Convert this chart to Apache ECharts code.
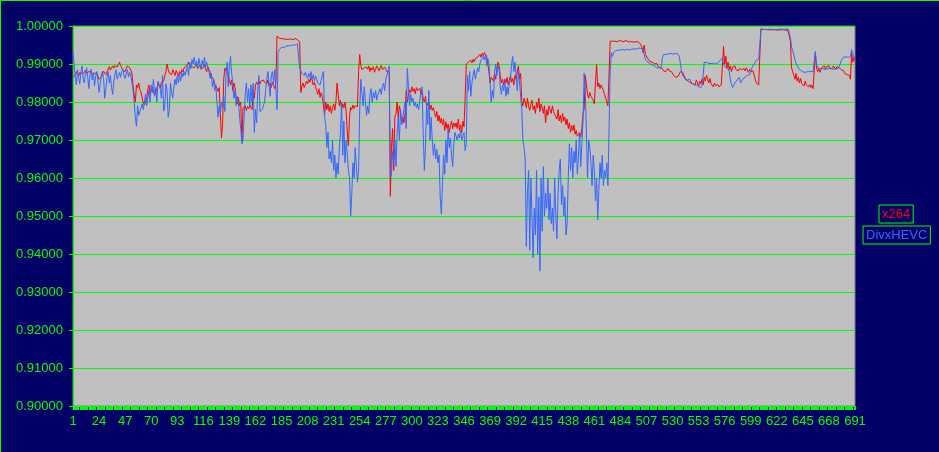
<!DOCTYPE html>
<html><head><meta charset="utf-8">
<script src="https://cdn.jsdelivr.net/npm/echarts@6/dist/echarts.min.js"></script>
<style>html,body{margin:0;padding:0;background:#000066;}#c{width:939px;height:452px;}</style>
</head><body><div id="c"></div>
<script>
// category labels 1..691
const categories = [];
for (let k = 1; k <= 691; k++) categories.push(String(k));

const seriesNames = ['x264', 'DivxHEVC'];

const x264 = [
// 0-85
.9865,.9863,.9872,.9880,.9876,.9868,.9878,.9882,.9874,.9870,
.9878,.9884,.9875,.9871,.9880,.9885,.9879,.9873,.9868,.9876,
.9880,.9875,.9868,.9860,.9856,.9866,.9874,.9881,.9877,.9872,
.9879,.9886,.9893,.9884,.9888,.9895,.9889,.9896,.9899,.9892,
.9898,.9905,.9896,.9890,.9883,.9887,.9880,.9889,.9895,.9893,
.9890,.9884,.9875,.9842,.9820,.9800,.9845,.9838,.9850,.9833,
.9825,.9812,.9798,.9792,.9802,.9808,.9832,.9845,.9820,.9815,
.9840,.9828,.9818,.9825,.9835,.9850,.9844,.9838,.9852,.9848,
.9855,.9870,.9880,.9900,.9885,.9876,
// 86-169
.9880,.9872,.9885,.9878,.9870,.9883,.9876,.9868,.9880,.9874,
.9885,.9879,.9890,.9886,
.9895,.9900,.9905,.9893,.9898,
.9893,.9898,.9890,.9895,.9900,.9888,.9892,.9897,.9889,.9894,.9890,.9898,.9886,.9880,.9893,.9885,
.9878,.9868,.9872,.9860,.9848,
.9842,.9835,.9828,.9838,
.9770,.9705,.9742,
.9860,.9889,.9882,.9892,.9870,
.9865,.9845,.9858,.9830,.9850,.9838,
.9808,.9795,.9812,.9790,.9800,
.9697,
.9785,.9780,.9790,.9778,.9788,.9782,.9792,.9786,.9780,
.9830,.9810,.9845,
.9852,.9845,.9856,.9848,.9855,.9850,.9858,.9852,
// 170-253
.9855,.9848,.9858,.9842,.9850,.9838,.9852,.9845,.9835,.9848,
.9973,
.9970,.9968,.9966,.9967,.9965,.9966,.9964,.9965,.9966,.9965,.9964,.9966,.9965,.9964,.9966,.9967,.9965,.9964,.9963,.9958,
.9825,.9842,
.9850,.9838,.9845,.9855,.9848,.9860,.9852,.9865,.9858,.9845,.9852,.9840,
.9830,.9820,.9835,.9812,.9825,.9815,
.9790,.9766,
.9800,.9780,.9795,.9775,.9790,.9770,.9785,.9795,.9778,
.9800,.9850,
.9820,.9790,.9805,.9780,.9795,.9785,.9800,.9775,
.9720,.9685,.9760,
.9786,.9780,.9792,.9783,.9790,.9785,.9788,
.9880,.9925,
// 254-337
.9895,.9885,.9880,.9890,.9888,
.9892,.9886,.9895,.9880,.9890,.9884,.9893,.9878,.9886,.9895,.9888,.9882,.9890,.9896,.9885,.9880,.9892,.9887,.9880,.9883,
.9880,
.9552,.9680,
.9730,.9620,.9760,
.9770,.9800,.9760,.9790,.9775,.9742,
.9760,.9745,.9770,
.9830,.9800,.9815,
.9832,.9825,.9840,.9828,.9835,.9822,.9838,.9830,.9825,.9836,.9820,.9828,
.9810,.9800,.9815,
.9790,.9785,.9800,.9780,.9792,.9778,.9785,.9772,
.9760,.9775,.9750,.9765,.9745,.9758,
.9740,.9755,.9725,.9748,.9730,.9742,.9720,.9738,.9750,.9730,.9745,.9735,
// 338-420
.9745,.9730,.9755,.9725,.9740,.9720,.9750,.9735,
.9810,.9900,
.9895,.9905,.9900,.9910,.9903,.9912,.9906,.9915,.9910,.9918,
.9920,.9925,.9918,.9928,.9922,.9930,.9925,.9920,.9915,
.9880,.9850,.9865,
.9870,.9855,.9875,.9860,.9885,
.9905,.9895,
.9870,.9850,.9860,.9845,
.9860,.9850,.9865,.9845,.9858,.9870,.9852,.9862,.9845,.9870,.9860,
.9880,.9895,.9860,.9875,
.9800,.9790,.9810,
.9800,.9785,.9810,.9790,.9778,.9795,.9805,.9780,.9790,.9770,.9800,.9785,.9810,.9775,.9795,.9785,.9770,.9790,.9745,.9780,.9765,.9790,
// 421-504
.9785,.9770,.9790,.9775,.9768,
.9770,.9755,.9780,.9750,.9765,.9745,.9770,.9750,.9760,
.9740,.9755,.9730,.9745,.9720,.9738,.9725,.9740,.9715,
.9725,.9710,.9705,.9720,.9708,.9730,
.9770,.9780,.9870,
.9845,
.9820,.9810,.9825,.9815,.9820,.9805,
.9795,
.9850,.9898,
.9840,.9850,.9835,.9845,.9840,.9830,
.9820,.9810,.9800,.9790,
.9790,
.9960,
.9962,.9960,.9958,.9960,.9957,.9958,.9960,.9962,.9961,.9960,.9958,.9959,.9961,.9962,.9960,.9958,.9960,.9959,.9957,.9958,.9960,.9958,.9957,.9959,.9958,.9955,.9958,
.9945,.9930,.9950,
// 505-588
.9925,.9920,.9915,
.9910,.9906,.9908,.9905,.9908,
.9900,.9896,.9902,.9895,.9898,
.9890,.9885,.9888,.9882,.9886,.9880,.9884,.9888,.9882,.9886,.9880,.9878,
.9870,.9875,.9865,.9860,.9868,.9872,.9880,
.9885,.9878,.9870,
.9865,.9858,.9862,.9855,.9860,.9850,
.9855,.9848,.9852,.9845,.9858,.9850,.9842,.9855,.9848,.9860,.9845,
.9865,.9855,.9870,.9860,.9850,.9862,
.9848,.9845,.9840,.9850,.9843,.9838,.9846,.9840,.9835,.9845,.9840,
.9946,
.9900,.9920,.9890,.9905,.9885,.9895,.9880,.9892,.9888,.9895,.9885,.9890,.9882,.9888,
// 589-690
.9890,.9885,.9880,.9888,.9882,.9890,.9885,.9878,.9886,.9880,.9875,.9882,.9878,
.9860,.9850,.9855,.9845,.9840,
.9993,
.9992,.9991,.9990,.9991,.9990,.9990,.9991,.9990,.9989,.9990,.9991,.9990,.9990,.9989,.9990,.9990,.9991,.9990,.9989,.9990,.9990,.9989,.9990,.9988,.9989,
.9960,.9890,
.9880,.9870,.9860,.9875,.9855,.9865,.9850,.9862,.9848,
.9850,.9842,.9855,.9845,.9850,.9840,.9846,.9838,.9844,.9835,.9832,
.9928,
.9892,.9880,.9888,.9878,.9885,
.9892,.9888,.9895,.9886,.9893,.9889,.9896,.9887,.9892,.9888,.9895,.9890,.9886,.9893,.9888,.9890,.9892,
.9885,.9880,.9882,.9875,.9878,.9872,.9868,.9870,
.9860,
.9930,.9905,.9915,.9910
];

const divxHEVC = [
// 0-85
.9933,.9900,.9870,.9845,.9885,.9862,.9848,.9880,.9895,.9860,
.9850,.9875,.9890,.9865,.9835,.9872,.9886,.9858,.9877,.9843,
.9868,.9880,.9855,.9825,.9848,.9870,.9880,.9862,.9810,.9835,
.9865,.9880,.9850,.9870,.9838,.9820,.9855,.9872,.9885,.9860,
.9870,.9878,.9865,.9880,.9888,.9870,.9862,.9875,.9885,.9866,
.9878,.9870,.9852,.9830,.9800,.9760,.9736,.9790,.9765,.9770,
.9785,.9795,.9780,.9800,.9820,.9790,.9810,.9830,.9800,.9845,
.9825,.9860,.9815,.9838,.9800,.9855,.9845,.9835,.9810,.9870,
.9776,.9790,.9848,.9830,.9760,.9780,
// 86-169
.9850,.9825,.9810,.9840,
.9860,.9845,.9868,.9850,.9872,.9855,.9877,.9866,.9880,.9870,
.9875,.9895,.9870,.9905,.9888,
.9912,.9900,.9918,.9895,.9908,.9890,.9915,.9900,.9885,.9910,.9895,.9918,.9892,.9905,.9888,.9880,
.9862,.9875,.9840,.9858,.9830,.9845,
.9800,.9760,.9790,.9770,.9800,
.9785,.9815,.9775,.9870,
.9905,.9840,.9895,.9920,.9875,
.9850,.9810,.9830,.9790,.9815,.9798,
.9760,.9730,.9690,.9700,.9760,.9820,
.9850,.9800,.9835,.9785,.9845,.9800,
.9850,.9720,.9780,.9745,.9830,
.9870,.9775,.9770,.9780,.9790,.9800,
// 170-253
.9830,.9860,.9880,.9845,.9815,.9870,.9880,.9850,.9885,.9835,
.9780,
.9930,.9938,.9942,.9944,.9945,.9943,.9946,.9947,.9946,.9948,.9947,.9949,.9948,.9950,.9951,.9950,.9952,.9953,.9955,
.9890,
.9885,.9875,.9880,.9870,.9878,.9868,.9862,.9875,.9865,.9880,.9860,.9872,.9855,.9868,
.9860,.9850,.9855,.9845,.9850,
.9870,.9880,
.9760,.9740,.9680,.9720,.9650,
.9670,.9640,.9700,.9620,.9660,.9600,.9640,.9610,.9680,.9720,
.9800,.9660,.9750,.9640,.9700,
.9660,.9620,.9600,
.9500,.9560,
.9640,.9600,.9680,.9630,.9590,.9620,
.9780,
// 254-337
.9860,.9820,.9790,.9840,
.9800,.9765,.9790,.9770,.9820,
.9835,.9800,.9825,.9810,.9830,.9805,.9820,.9815,.9835,.9820,.9840,.9850,.9830,.9860,.9870,
.9880,.9895,
.9600,
.9610,.9670,.9640,.9700,.9630,
.9720,.9760,.9700,.9780,.9740,.9760,
.9780,.9800,.9730,
.9888,
.9840,.9790,.9820,.9800,
.9810,.9790,.9800,.9785,.9795,.9780,.9805,.9810,
.9840,
.9720,.9620,.9680,
.9800,.9740,.9830,.9700,.9760,
.9700,.9660,.9690,.9650,.9675,.9640,.9660,
.9550,.9505,.9580,
.9660,.9610,.9700,.9640,.9730,.9680,
.9705,.9660,.9630,.9690,.9720,
// 338-420
.9720,.9700,.9715,.9705,.9725,.9700,.9710,.9720,
.9672,.9690,
.9870,.9830,.9880,.9815,.9850,
.9870,.9885,.9860,.9875,.9890,.9880,
.9900,.9910,.9905,
.9920,.9910,.9925,.9895,.9915,.9900,
.9850,.9800,.9830,.9810,
.9880,.9900,.9870,.9895,.9885,
.9840,.9820,.9845,
.9830,.9855,.9815,.9840,.9820,.9850,.9860,
.9900,.9920,.9880,.9905,
.9870,.9830,.9880,.9850,.9815,
.9780,.9700,.9680,
.9650,.9420,.9560,
.9620,.9410,.9600,
.9500,.9390,.9520,.9450,
.9620,.9400,.9550,.9355,
.9600,.9460,.9630,.9500,.9560,
.9520,.9600,.9490,
// 421-504
.9560,.9480,.9520,.9460,.9600,.9500,.9440,.9560,.9620,
.9650,.9530,.9580,.9500,.9550,
.9450,.9480,.9600,
.9690,.9620,.9680,.9600,.9670,.9640,.9700,.9610,.9660,
.9720,.9630,.9690,.9750,
.9876,.9830,
.9720,.9600,.9700,
.9680,.9640,.9580,.9660,
.9620,.9540,.9600,.9490,.9570,
.9640,.9600,.9660,.9580,.9620,.9600,.9640,
.9580,
.9580,
.9880,
.9930,.9920,.9930,
.9932,.9935,.9934,.9936,.9935,.9937,.9936,.9938,.9937,.9936,.9938,.9939,.9938,.9937,.9940,.9939,.9938,.9940,.9941,.9939,.9940,.9942,.9940,.9941,.9943,.9940,.9942,
// 505-588
.9912,.9908,.9905,.9903,.9900,.9902,.9898,.9900,
.9895,.9893,.9890,.9888,.9890,.9888,.9890,
.9915,
.9925,.9926,.9925,.9927,.9926,.9926,.9928,.9927,.9926,.9928,.9927,.9926,.9928,.9925,.9920,
.9918,
.9880,
.9870,.9865,.9860,.9862,.9858,.9856,.9860,.9855,.9850,
.9848,.9845,.9840,.9845,.9843,.9840,.9842,.9838,.9845,
.9870,
.9905,.9906,.9904,.9903,.9902,.9900,.9901,.9900,.9902,.9901,.9900,.9902,.9903,.9905,
.9910,.9912,.9915,
.9900,.9895,.9890,.9895,.9888,.9880,
.9860,.9845,.9838,.9840,.9850,
.9855,.9858,.9862,.9865,
// 589-690
.9850,.9855,.9860,.9862,.9865,.9868,
.9870,.9870,.9872,.9880,
.9890,.9895,.9900,.9905,
.9910,.9915,.9912,.9915,
.9990,
.9991,.9991,.9991,.9991,.9991,.9991,.9991,.9992,.9992,.9991,.9991,.9991,.9991,.9991,.9992,.9992,.9991,.9992,.9992,.9991,.9991,.9992,.9992,.9992,.9992,
.9970,.9945,.9935,.9925,
.9910,.9905,.9895,.9890,.9885,.9880,
.9882,.9880,.9878,.9880,.9879,.9881,.9880,.9878,.9880,.9881,.9880,.9882,
.9933,
.9900,.9890,.9885,.9888,.9890,
.9888,.9890,.9886,.9889,.9887,.9885,.9888,.9886,.9889,.9887,.9886,.9888,.9887,.9889,.9888,.9890,
.9900,.9910,.9915,.9918,.9917,.9919,.9918,.9917,.9919,
.9920,.9938,.9930,
.9915,.9920
];

if (x264.length !== 691 || divxHEVC.length !== 691) {
  throw new Error('lengths ' + x264.length + ' ' + divxHEVC.length);
}

const yMin = 0.9, yMax = 1.0, yStep = 0.01;
const FONT = '"Liberation Sans", Arial, sans-serif';
const LIME = '#00FF00';

const chart = echarts.init(document.getElementById('c'), null, {renderer: 'canvas'});
chart.setOption({
  backgroundColor: '#000066',
  animation: false,
  textStyle: {fontFamily: FONT},
  grid: {left: 73, right: 84, top: 26, bottom: 46, show: true,
         backgroundColor: '#C0C0C0', borderColor: '#808080', borderWidth: 1},
  graphic: [
    {type: 'line', shape: {x1: 0.5, y1: 0, x2: 0.5, y2: 452},
     style: {stroke: LIME, lineWidth: 1}, silent: true},
    {type: 'line', shape: {x1: 0, y1: 0.5, x2: 939, y2: 0.5},
     style: {stroke: LIME, lineWidth: 1}, silent: true}
  ],
  legend: [
    {data: [{name: seriesNames[0], textStyle: {color: '#FF0000'}}],
     left: 879, top: 205, orient: 'vertical', selectedMode: false,
     itemWidth: 0, itemHeight: 0, icon: 'rect', padding: [3, 3, 2, -2],
     borderColor: LIME, borderWidth: 1,
     textStyle: {fontFamily: FONT, fontSize: 13}},
    {data: [{name: seriesNames[1], textStyle: {color: '#3366FF'}}],
     left: 863, top: 226, orient: 'vertical', selectedMode: false,
     itemWidth: 0, itemHeight: 0, icon: 'rect', padding: [3, 3, 2, -2],
     borderColor: LIME, borderWidth: 1,
     textStyle: {fontFamily: FONT, fontSize: 13}}
  ],
  xAxis: {
    type: 'category', data: categories, boundaryGap: false,
    axisLine: {show: true, lineStyle: {color: LIME, width: 1}},
    axisTick: {show: true, interval: 0, length: 4, lineStyle: {color: LIME, width: 1}},
    axisLabel: {interval: 22, color: LIME, fontSize: 13, fontFamily: FONT, margin: 9,
                showMaxLabel: true},
    splitLine: {show: false}
  },
  yAxis: {
    type: 'value', min: yMin, max: yMax, interval: yStep,
    axisLine: {show: true, lineStyle: {color: LIME, width: 1}},
    axisTick: {show: true, length: 4, lineStyle: {color: LIME}},
    axisLabel: {color: LIME, fontSize: 13, fontFamily: FONT, margin: 10,
                formatter: v => v.toFixed(5)},
    splitLine: {show: true, lineStyle: {color: LIME, width: 1}}
  },
  series: [
    {name: seriesNames[0], type: 'line', data: x264, symbol: 'none', sampling: null,
     lineStyle: {color: '#FF0000', width: 1}, itemStyle: {color: '#FF0000'}},
    {name: seriesNames[1], type: 'line', data: divxHEVC, symbol: 'none', sampling: null,
     lineStyle: {color: '#3366FF', width: 1}, itemStyle: {color: '#3366FF'}}
  ]
});
</script>
</body></html>
